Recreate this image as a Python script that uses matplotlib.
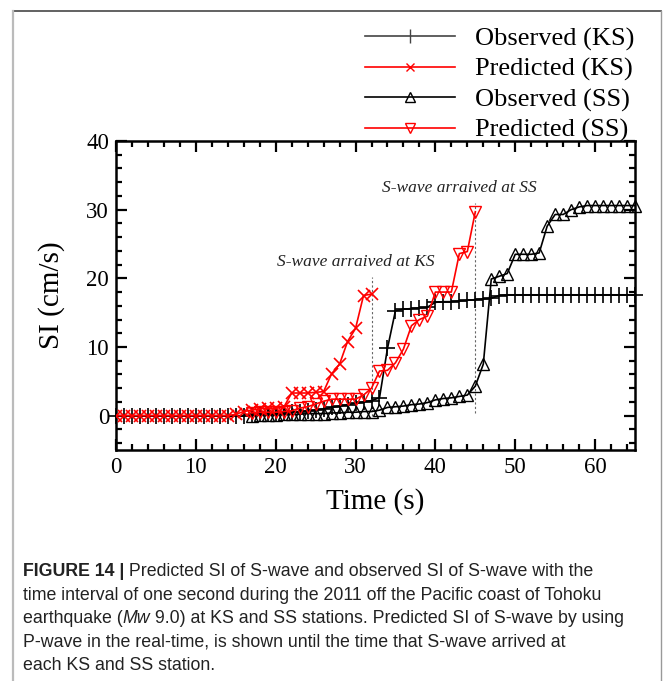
import matplotlib
matplotlib.use('Agg')
import matplotlib.pyplot as plt
from matplotlib.ticker import MultipleLocator
from matplotlib.lines import Line2D

# observed SI at KS station, one value per second (0-65 s)
obs_ks_t = [0, 1, 2, 3, 4, 5, 6, 7, 8, 9, 10, 11, 12, 13, 14, 15, 16, 17, 18, 19,
            20, 21, 22, 23, 24, 25, 26, 27, 28, 29, 30, 31, 32, 33, 34, 35, 36, 37, 38, 39,
            40, 41, 42, 43, 44, 45, 46, 47, 48, 49, 50, 51, 52, 53, 54, 55, 56, 57, 58, 59,
            60, 61, 62, 63, 64, 65]
obs_ks_si = [0, 0, 0, 0, 0, 0, 0, 0, 0, 0, 0, 0, 0, 0, 0, 0, 0, 0.1, 0.2, 0.3,
             0.3, 0.4, 0.5, 0.6, 0.7, 0.8, 1.0, 1.2, 1.4, 1.6, 1.8, 2.0, 2.2, 2.6, 9.8, 15.3, 15.5, 15.6, 15.7, 15.8,
             16.5, 16.6, 16.6, 16.7, 16.8, 16.9, 17.0, 17.1, 17.5, 17.6, 17.6, 17.6, 17.6, 17.6, 17.6, 17.6, 17.6, 17.6, 17.6, 17.6,
             17.6, 17.6, 17.6, 17.6, 17.6, 17.6]

# predicted SI at KS (until S-wave arrival)
pred_ks_t = [0, 1, 2, 3, 4, 5, 6, 7, 8, 9, 10, 11, 12, 13, 14, 15, 16, 17, 18, 19,
             20, 21, 22, 23, 24, 25, 26, 27, 28, 29, 30, 31, 32]
pred_ks_si = [0, 0, 0, 0, 0, 0, 0, 0, 0, 0, 0, 0, 0, 0, 0, 0.2, 0.6, 0.8, 1.0, 1.1,
              1.1, 1.2, 3.3, 3.3, 3.3, 3.4, 3.5, 6.1, 7.5, 10.8, 12.7, 17.5, 17.7]

# observed SI at SS
obs_ss_t = [17, 18, 19, 20, 21, 22, 23, 24, 25, 26, 27, 28, 29, 30, 31, 32, 33, 34, 35, 36,
            37, 38, 39, 40, 41, 42, 43, 44, 45, 46, 47, 48, 49, 50, 51, 52, 53, 54, 55, 56,
            57, 58, 59, 60, 61, 62, 63, 64, 65]
obs_ss_si = [0.0, 0.1, 0.1, 0.1, 0.2, 0.2, 0.2, 0.3, 0.3, 0.3, 0.4, 0.4, 0.5, 0.5, 0.6, 0.6, 0.8, 1.2, 1.3, 1.4,
             1.6, 1.7, 1.9, 2.3, 2.5, 2.6, 2.8, 3.0, 4.3, 7.5, 19.9, 20.3, 20.7, 23.5, 23.5, 23.5, 23.7, 27.6, 29.3, 29.3,
             30.0, 30.4, 30.6, 30.6, 30.6, 30.6, 30.6, 30.6, 30.6]

# predicted SI at SS (until S-wave arrival)
pred_ss_t = [17, 18, 19, 20, 21, 22, 23, 24, 25, 26, 27, 28, 29, 30, 31, 32, 33, 34, 35, 36,
             37, 38, 39, 40, 41, 42, 43, 44, 45]
pred_ss_si = [0.4, 0.5, 0.5, 0.5, 0.6, 0.7, 1.1, 1.3, 1.7, 2.1, 2.4, 2.4, 2.4, 2.4, 3.0, 4.0, 6.5, 6.6, 7.7, 9.7,
              13.1, 14.0, 14.5, 18.0, 18.0, 18.0, 23.6, 23.9, 29.7]

arrival_ks = 32
arrival_ss = 45

serif = ['Liberation Serif', 'DejaVu Serif']
sans = ['Liberation Sans', 'DejaVu Sans']

fig = plt.figure(figsize=(6.63, 6.81), dpi=100)
ax = fig.add_axes([116 / 663, 1 - 450 / 681, 519 / 663, 309 / 681])

l1, = ax.plot(obs_ks_t, obs_ks_si, color='black', lw=1.2, marker='+', ms=11, mew=1.2, clip_on=False, zorder=3)
l2, = ax.plot(pred_ks_t, pred_ks_si, color='red', lw=1.2, marker='x', ms=8, mew=1.2, zorder=4)
l3, = ax.plot(obs_ss_t, obs_ss_si, color='black', lw=1.2, marker='^', ms=9, mew=1.0,
              mfc='none', clip_on=False, zorder=3)
l4, = ax.plot(pred_ss_t, pred_ss_si, color='red', lw=1.2, marker='v', ms=9, mew=1.0, mfc='none', zorder=4)

# S-wave arrival markers
ax.plot([arrival_ks, arrival_ks], [0, 20.2], color='#666666', lw=0.8, ls=(0, (2, 2)), zorder=2)
ax.plot([arrival_ss, arrival_ss], [0.4, 31], color='#666666', lw=0.8, ls=(0, (2, 2)), zorder=2)
ax.text(30.0, 22.4, 'S-wave arraived at KS', family=serif, style='italic', fontsize=12.5,
        ha='center', va='center', color='#222222')
ax.text(43.0, 33.1, 'S-wave arraived at SS', family=serif, style='italic', fontsize=12.5,
        ha='center', va='center', color='#222222')

ax.set_xlim(0, 65)
ax.set_ylim(-5, 40)
ax.xaxis.set_major_locator(MultipleLocator(10))
ax.xaxis.set_minor_locator(MultipleLocator(2))
ax.yaxis.set_major_locator(MultipleLocator(10))
ax.yaxis.set_minor_locator(MultipleLocator(2))
ax.tick_params(which='both', direction='in', top=True, right=True, width=1.6)
ax.tick_params(which='major', length=8, pad=5, labelsize=16.5)
ax.tick_params(which='minor', length=4.5)
for lab in ax.get_xticklabels() + ax.get_yticklabels():
    lab.set_family(serif)
for sp in ax.spines.values():
    sp.set_linewidth(1.8)

ax.set_xlabel('Time (s)', family=serif, fontsize=21, labelpad=7)
ax.set_ylabel('SI (cm/s)', family=serif, fontsize=21, labelpad=15)

labels = ['Observed (KS)', 'Predicted (KS)', 'Observed (SS)', 'Predicted (SS)']
leg_handles = [
    Line2D([], [], color='#444444', lw=1.2, marker='|', ms=10, mew=1.0),
    Line2D([], [], color='red', lw=1.2, marker='x', ms=6, mew=1.0),
    Line2D([], [], color='black', lw=1.2, marker='^', ms=7, mew=1.0, mfc='none'),
    Line2D([], [], color='red', lw=1.2, marker='v', ms=7, mew=1.0, mfc='none'),
]
fig.legend(leg_handles, labels, loc='upper left', bbox_to_anchor=(365 / 663, 1 - 27 / 681),
           frameon=False, prop={'family': serif, 'size': 19}, handlelength=3.4,
           handletextpad=0.75, labelspacing=0.25, borderpad=0, borderaxespad=0)

# frame around the figure panel
fig.add_artist(Line2D([13 / 663, 661 / 663], [1 - 11 / 681, 1 - 11 / 681], color='#555555', lw=1.3))
fig.add_artist(Line2D([13 / 663, 13 / 663], [0, 1 - 11 / 681], color='#bbbbbb', lw=1.6))
fig.add_artist(Line2D([661 / 663, 661 / 663], [0, 1 - 11 / 681], color='#999999', lw=1.0))

# caption
cap_x = 23 / 663
base0 = 576
step = 23.5
cap_size = 12.8
ink = '#222222'
t = fig.text(cap_x, 1 - base0 / 681, 'FIGURE 14 |', family=sans, weight='bold', fontsize=cap_size,
             va='baseline', color=ink)
fig.add_artist(plt.Annotation(' Predicted SI of S-wave and observed SI of S-wave with the',
                              xy=(1, 1 - base0 / 681), xycoords=(t, 'figure fraction'),
                              family=sans, fontsize=cap_size, va='baseline', color=ink))
fig.text(cap_x, 1 - (base0 + step) / 681,
         'time interval of one second during the 2011 off the Pacific coast of Tohoku',
         family=sans, fontsize=cap_size, va='baseline', color=ink)
y2 = 1 - (base0 + 2 * step) / 681
t2 = fig.text(cap_x, y2, 'earthquake (', family=sans, fontsize=cap_size, va='baseline', color=ink)
t3 = plt.Annotation('Mw', xy=(1, y2), xycoords=(t2, 'figure fraction'), family=sans,
                    style='italic', fontsize=cap_size, va='baseline', color=ink)
fig.add_artist(t3)
fig.add_artist(plt.Annotation(' 9.0) at KS and SS stations. Predicted SI of S-wave by using',
                              xy=(1, y2), xycoords=(t3, 'figure fraction'), family=sans,
                              fontsize=cap_size, va='baseline', color=ink))
fig.text(cap_x, 1 - (base0 + 3 * step) / 681,
         'P-wave in the real-time, is shown until the time that S-wave arrived at',
         family=sans, fontsize=cap_size, va='baseline', color=ink)
fig.text(cap_x, 1 - (base0 + 4 * step) / 681, 'each KS and SS station.',
         family=sans, fontsize=cap_size, va='baseline', color=ink)

fig.savefig('out.png', dpi=100)
